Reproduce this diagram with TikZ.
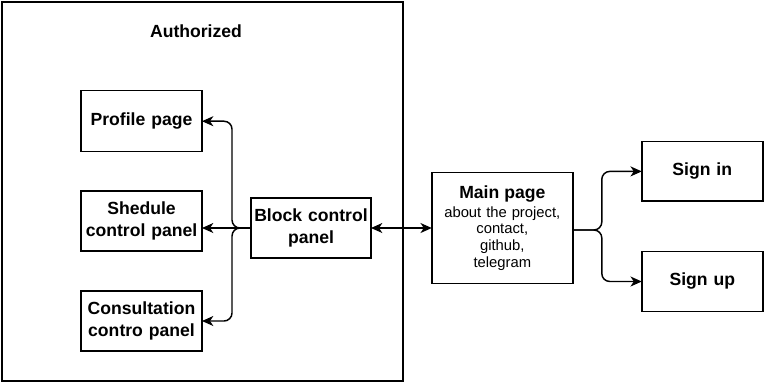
\documentclass[tikz,border=0pt]{standalone}
\usepackage{fontspec}
\setmainfont{Liberation Sans}
\usetikzlibrary{arrows.meta,calc}

\begin{document}
\begin{tikzpicture}[x=0.75pt,y=-0.75pt,
  every node/.style={inner sep=0pt, outer sep=0pt},
  box/.style={draw, line width=1.1pt, align=center, text width=88pt,
    font=\fontsize{13.2}{16.3}\selectfont\bfseries},
  tip/.style={Stealth[length=8.5pt,width=7.5pt,inset=2.5pt]},
  conn/.style={line width=1.1pt, -{Stealth[length=8.5pt,width=7.5pt,inset=2.5pt]}},
  conn2/.style={line width=1.1pt, {Stealth[length=8.5pt,width=7.5pt,inset=2.5pt]}-{Stealth[length=8.5pt,width=7.5pt,inset=2.5pt]}},
  title/.style={font=\fontsize{13.2}{16.3}\selectfont\bfseries}]

\useasboundingbox (0,0) rectangle (764,383);
\fill[white] (0,0) rectangle (764,383);

% outer frame for the authorized area
\node[draw, line width=1.1pt, minimum width=300.75pt, minimum height=284.25pt] (auth) at (202.5,191.5) {};
\node[title] (authlabel) at (196,31) {Authorized};

% authorized pages
\node[box, minimum width=90.75pt, minimum height=45.75pt] (profile) at (141.5,121.2) {Profile page\strut};
\node[box, minimum width=90.75pt, minimum height=45pt] (shedule) at (141.5,221) {Shedule\\control panel};
\node[box, minimum width=90.75pt, minimum height=45pt] (consult) at (141.5,321) {Consultation\\contro panel};
\node[box, minimum width=90pt, minimum height=45pt] (block) at (311,228) {Block control\\panel};

% public pages
\node[box, text width=104pt, minimum width=105.75pt, minimum height=83pt,
  font=\fontsize{11.1}{12.5}\selectfont] (main) at (502.3,228)
  {{\fontsize{13.2}{15}\selectfont\bfseries Main page}\\[1.5pt]about the project,\\contact,\\github,\\telegram};
\node[box, minimum width=90.75pt, minimum height=44.5pt] (signin) at (702.3,171.4) {Sign in\strut};
\node[box, minimum width=90.75pt, minimum height=45pt] (signup) at (702.3,281.5) {Sign up\strut};

% connectors
\coordinate (bsplit) at ($(block.west)+(-19,0)$);
\draw[conn, rounded corners=6pt] (block.west) -- (bsplit) |- (profile.east);
\draw[conn] (block.west) -- (shedule.east |- block.west);
\draw[conn, rounded corners=6pt] (block.west) -- (bsplit) |- (consult.east);
\draw[conn2] (block.east) -- (main.west);

\coordinate (mout) at ($(main.east)+(0,2)$);
\coordinate (msplit) at ($(mout)+(29,0)$);
\draw[conn, rounded corners=6pt] (mout) -- (msplit) |- (signin.west);
\draw[conn, rounded corners=6pt] (mout) -- (msplit) |- (signup.west);
\end{tikzpicture}
\end{document}
